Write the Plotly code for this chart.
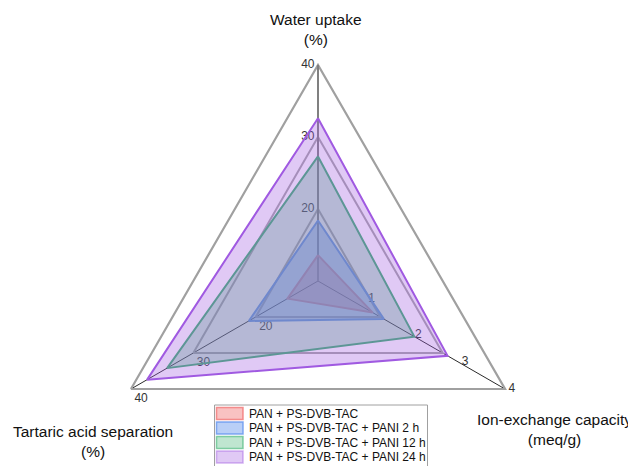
import plotly.graph_objects as go

# The page body has an 8px margin, so the figure is drawn at (8, 8) in the window.
OFF = 8
W = 636 - OFF
H = 490  # the polar circle extends below the visible window; only the triangle matters

# ---------------- data ----------------
axis_names = ["Water uptake", "Ion-exchange capacity", "Tartaric acid separation"]
axis_titles = ["Water uptake<br>(%)", "Ion-exchange capacity<br>(meq/g)", "Tartaric acid separation<br>(%)"]
axis_min = [10, 0, 10]
axis_max = [40, 4, 40]

water_ticks = [10, 20, 30, 40]
iec_ticks = [0, 1, 2, 3, 4]
tartaric_ticks = [10, 20, 30, 40]

series_names = [
    "PAN + PS-DVB-TAC",
    "PAN + PS-DVB-TAC + PANI 2 h",
    "PAN + PS-DVB-TAC + PANI 12 h",
    "PAN + PS-DVB-TAC + PANI 24 h",
]
water_uptake = [13.6, 18.4, 27.3, 32.6]
ion_exchange = [1.17, 1.41, 2.06, 2.77]
tartaric_sep = [14.9, 21.1, 34.2, 37.4]

line_colors = ["rgb(240,128,128)", "rgb(100,149,237)", "rgb(60,179,113)", "rgb(160,90,225)"]
fill_colors = ["rgba(240,110,110,0.42)", "rgba(100,149,237,0.45)", "rgba(60,179,113,0.33)", "rgba(160,90,225,0.33)"]
swatch_lines = ["rgba(240,110,110,0.75)", "rgba(100,149,237,0.8)", "rgba(60,179,113,0.6)", "rgba(160,90,225,0.45)"]

FONT = "Liberation Sans, Arial, sans-serif"


def norm(v, i):
    return (v - axis_min[i]) / (axis_max[i] - axis_min[i])


def px_x(p):  # window pixel -> paper fraction
    return (p - OFF) / W


def px_y(p):
    return 1 - (p - OFF) / H


fig = go.Figure()
closed = axis_names + [axis_names[0]]

# tick labels of the three axes (drawn beneath the filled polygons)
tick_font = dict(family=FONT, size=12, color="#333333")
tick_sets = [
    (0, water_ticks, "middle left"),
    (1, iec_ticks, ["top right", "top right", "middle right", "middle right", "middle right"]),
    (2, tartaric_ticks, "bottom right"),
]
for ai, ticks, pos in tick_sets:
    fig.add_trace(go.Scatterpolar(r=[norm(t, ai) for t in ticks], theta=[axis_names[ai]] * len(ticks),
                                  mode="markers+text", text=[str(t) for t in ticks],
                                  textposition=pos, textfont=tick_font,
                                  marker=dict(size=4, color="rgba(0,0,0,0)"),
                                  showlegend=False, hoverinfo="skip", cliponaxis=False))

# data polygons
for i, name in enumerate(series_names):
    rr = [norm(water_uptake[i], 0), norm(ion_exchange[i], 1), norm(tartaric_sep[i], 2)]
    fig.add_trace(go.Scatterpolar(r=rr + [rr[0]], theta=closed, mode="lines", name=name,
                                  fill="toself", fillcolor=fill_colors[i],
                                  line=dict(color=line_colors[i], width=2),
                                  showlegend=False))

# polar geometry in window pixels: centre (318, 281), radius 216
cx, cy, R = 318, 281, 216
polar = dict(
    domain=dict(x=[px_x(cx - R), px_x(cx + R)], y=[px_y(cy + R), px_y(cy - R)]),
    gridshape="linear",
    bgcolor="rgba(0,0,0,0)",
    radialaxis=dict(range=[0, 1], angle=90,
                    tickvals=[norm(t, 0) for t in water_ticks],
                    showline=True, linecolor="#808080", linewidth=2,
                    showgrid=True, gridcolor="#a8a8a8", gridwidth=1.5,
                    ticks="", showticklabels=False, layer="below traces"),
    angularaxis=dict(type="category", categoryarray=axis_names, rotation=90, direction="clockwise",
                     showline=True, linecolor="#a0a0a0", linewidth=2.2,
                     showgrid=True, gridcolor="#2a2a2a", gridwidth=1,
                     showticklabels=False, ticks="", layer="below traces"),
)

annotations = []
title_pos = [(316, 29.5), (554, 429), (93, 441)]
for t, (x, y) in zip(axis_titles, title_pos):
    annotations.append(dict(text=t, x=px_x(x), y=px_y(y), xref="paper", yref="paper",
                            xanchor="center", yanchor="middle", showarrow=False, align="center",
                            font=dict(family=FONT, size=15.5, color="#111111")))

# legend box, swatches and labels
shapes = [dict(type="rect", xref="paper", yref="paper", x0=px_x(214.5), x1=px_x(427.5),
               y0=px_y(480), y1=px_y(405), line=dict(color="#a0a0a0", width=1), fillcolor="white",
               layer="above")]
row0, dy = 413.5, 14.5
for i, name in enumerate(series_names):
    yc = row0 + i * dy
    shapes.append(dict(type="rect", xref="paper", yref="paper", x0=px_x(216.5), x1=px_x(243),
                       y0=px_y(yc + 6), y1=px_y(yc - 6), fillcolor=fill_colors[i],
                       line=dict(color=swatch_lines[i], width=1.5), layer="above"))
    annotations.append(dict(text=name, x=px_x(247), y=px_y(yc), xref="paper", yref="paper",
                            xanchor="left", yanchor="middle", showarrow=False,
                            font=dict(family=FONT, size=12, color="#111111")))

fig.update_layout(
    width=W, height=H, margin=dict(l=0, r=0, t=0, b=0),
    paper_bgcolor="white", plot_bgcolor="white",
    font=dict(family=FONT, size=12, color="#111111"),
    polar=polar, showlegend=False,
    annotations=annotations, shapes=shapes,
)

fig.write_html("out.html")
